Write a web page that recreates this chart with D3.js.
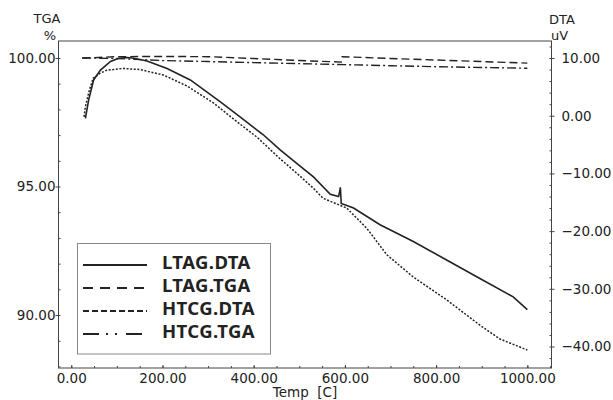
<!DOCTYPE html>
<html>
<head>
<meta charset="utf-8">
<script src="https://cdn.jsdelivr.net/npm/d3@7"></script>
<style>
  body { margin: 0; background: #fff; }
  svg text { font-family: "DejaVu Sans", sans-serif; fill: #222; }
</style>
</head>
<body>
<main></main>
<script>
// temperature [C] for each curve, and its value
const ltagDtaTemp = [31, 38, 49, 64, 86, 104, 122, 137, 166, 210, 261, 327, 370, 421, 458, 495, 531, 568, 586, 589, 590, 592, 619, 677, 750, 823, 896, 969, 1000]
const ltagDtaUV   = [-0.45, 2.7, 6.2, 7.9, 9.4, 9.95, 10.1, 9.95, 9.5, 8.2, 6.2, 2.4, -0.2, -3.3, -5.9, -8.3, -10.6, -13.6, -14.0, -13.0, -12.4, -15.2, -16.0, -18.9, -21.8, -25.0, -28.2, -31.4, -33.6]

const htcgDtaTemp = [28, 31, 40, 48, 63, 78, 92, 114, 151, 202, 254, 312, 370, 407, 457, 495, 530, 552, 567, 604, 648, 692, 749, 823, 896, 940, 1000]
const htcgDtaUV   = [-0.2, 1.6, 4.5, 6.5, 7.35, 7.9, 8.0, 8.2, 8.0, 7.05, 5.15, 2.2, -1.45, -3.7, -7.4, -10.0, -12.5, -14.3, -14.8, -16.0, -19.5, -24.1, -27.9, -31.9, -36.3, -38.7, -40.6]

const ltagTgaTemp = [24, 60, 100, 200, 300, 400, 500, 592, 594, 700, 800, 900, 1000]
const ltagTgaPct  = [100.0, 100.02, 100.05, 100.06, 100.05, 99.98, 99.9, 99.84, 100.05, 99.98, 99.92, 99.86, 99.8]

const htcgTgaTemp = [24, 100, 200, 300, 400, 500, 600, 700, 800, 900, 1000]
const htcgTgaPct  = [100.0, 99.98, 99.9, 99.86, 99.82, 99.78, 99.74, 99.7, 99.66, 99.63, 99.6]

const tempTicks = [0, 200, 400, 600, 800, 1000]
const tgaTicks  = [90, 95, 100]
const dtaTicks  = [10, 0, -10, -20, -30, -40]
const legendNames = ["LTAG.DTA", "LTAG.TGA", "HTCG.DTA", "HTCG.TGA"]

const size = { width: 613, height: 400 }
const frame = { left: 58.5, right: 551.5, top: 41, bottom: 368 }

const svg = d3.select('main')
    .append('svg')
    .attr('width', size.width)
    .attr('height', size.height)

const x = d3.scaleLinear().domain([-28, 1053]).range([frame.left, frame.right])
const yTga = d3.scaleLinear().domain([87.94, 100.66]).range([frame.bottom, frame.top])
const yDta = d3.scaleLinear().domain([-43.72, 12.95]).range([frame.bottom, frame.top])

const fmt = d3.format('.2f')
const axisColor = '#444'

const styleAxis = (g) => {
    g.select('.domain').remove()
    g.selectAll('line').attr('stroke', axisColor)
    g.selectAll('text').style('font-size', '13.5px').attr('fill', '#222')
}

// frame
svg.append('rect')
    .attr('x', frame.left).attr('y', frame.top)
    .attr('width', frame.right - frame.left)
    .attr('height', frame.bottom - frame.top)
    .attr('fill', 'none')
    .attr('stroke', axisColor)
    .attr('stroke-width', 1)

// bottom axis
svg.append('g')
    .attr('transform', `translate(0,${frame.bottom})`)
    .call(d3.axisBottom(x).tickValues(d3.range(0, 1051, 50)).tickSize(-2).tickFormat(''))
    .call(styleAxis)
svg.append('g')
    .attr('transform', `translate(0,${frame.bottom})`)
    .call(d3.axisBottom(x).tickValues(tempTicks).tickSize(-3).tickPadding(5).tickFormat(fmt))
    .call(styleAxis)

// left axis (TGA)
svg.append('g')
    .attr('transform', `translate(${frame.left},0)`)
    .call(d3.axisLeft(yTga).tickValues(d3.range(88, 101, 1)).tickSize(-2).tickFormat(''))
    .call(styleAxis)
svg.append('g')
    .attr('transform', `translate(${frame.left},0)`)
    .call(d3.axisLeft(yTga).tickValues(tgaTicks).tickSize(3).tickPadding(0).tickFormat(fmt))
    .call(styleAxis)

// right axis (DTA)
svg.append('g')
    .attr('transform', `translate(${frame.right},0)`)
    .call(d3.axisRight(yDta).tickValues(d3.range(-42, 13, 2)).tickSize(-2).tickFormat(''))
    .call(styleAxis)
svg.append('g')
    .attr('transform', `translate(${frame.right},0)`)
    .call(d3.axisRight(yDta).tickValues(dtaTicks).tickSize(3).tickPadding(7).tickFormat(fmt))
    .call(styleAxis)

// axis titles
const label = (txt, px, py, anchor) => svg.append('text')
    .attr('x', px).attr('y', py)
    .attr('text-anchor', anchor)
    .style('font-size', '13px')
    .style('white-space', 'pre')
    .text(txt)

label('TGA', 47, 23, 'middle')
label('%', 50, 39.5, 'middle')
label('DTA', 549, 24, 'start')
label('uV', 551, 39.5, 'start')
label('Temp  [C]', 305, 397, 'middle').style('font-size', '13.5px')

// curves
const series = [
    { temp: ltagDtaTemp, vals: ltagDtaUV, y: yDta, dash: null, width: 1.6, legendDash: null },
    { temp: ltagTgaTemp, vals: ltagTgaPct, y: yTga, dash: '8,4', width: 1.4, legendDash: '10,7' },
    { temp: htcgDtaTemp, vals: htcgDtaUV, y: yDta, dash: '2,1.6', width: 1.5, legendDash: '6,3' },
    { temp: htcgTgaTemp, vals: htcgTgaPct, y: yTga, dash: '9,3,2,3', width: 1.4, legendDash: '16,7,2,7,2,9' }
]

series.forEach(s => {
    const line = d3.line()
        .x((d, i) => x(s.temp[i]))
        .y(d => s.y(d))
    svg.append('path')
        .datum(s.vals)
        .attr('d', line)
        .attr('fill', 'none')
        .attr('stroke', '#222')
        .attr('stroke-width', s.width)
        .attr('stroke-dasharray', s.dash)
})

// legend
const legend = svg.append('g')
legend.append('rect')
    .attr('x', 77.5).attr('y', 243.5)
    .attr('width', 193).attr('height', 110.5)
    .attr('fill', '#fff')
    .attr('stroke', '#888')
    .attr('stroke-width', 1)

legendNames.forEach((name, i) => {
    const cy = 265 + i * 23
    legend.append('line')
        .attr('x1', 83).attr('x2', 147)
        .attr('y1', cy).attr('y2', cy)
        .attr('stroke', '#222')
        .attr('stroke-width', i === 0 ? 2 : 1.8)
        .attr('stroke-dasharray', series[i].legendDash)
    legend.append('text')
        .attr('x', 162).attr('y', cy + 4)
        .style('font-family', '"Noto Sans", sans-serif')
        .style('font-weight', 'bold')
        .style('font-size', '18.5px')
        .style('letter-spacing', '0.4px')
        .text(name)
})
</script>
</body>
</html>
